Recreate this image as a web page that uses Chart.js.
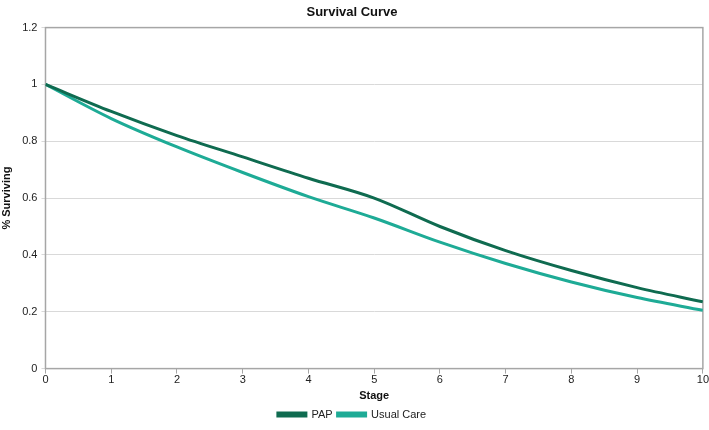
<!DOCTYPE html>
<html>
<head>
<meta charset="utf-8">
<script src="https://cdn.jsdelivr.net/npm/chart.js@4"></script>
<style>
  html, body { margin: 0; padding: 0; background: #fff; }
  #wrap { width: 709px; height: 430px; }
</style>
</head>
<body>
<div id="wrap"><canvas id="chart"></canvas></div>
<script>
// --- DATA ---
const stages = [0, 1, 2, 3, 4, 5, 6, 7, 8, 9, 10];
const papValues = [1, 0.905, 0.82, 0.745, 0.67, 0.60, 0.50, 0.415, 0.345, 0.285, 0.235];
const usualCareValues = [1, 0.88, 0.78, 0.69, 0.605, 0.53, 0.445, 0.37, 0.305, 0.25, 0.205];

const FONT = "'Liberation Sans Narrow', 'Liberation Sans', Arial, sans-serif";

// draw grey box round the plot area
const frame = {
    id: 'frame',
    beforeDatasetsDraw(chart) {
        const a = chart.chartArea;
        const ctx = chart.ctx;
        ctx.save();
        ctx.strokeStyle = '#a6a6a6';
        ctx.lineWidth = 1.5;
        ctx.strokeRect(a.left, a.top, a.right - a.left, a.bottom - a.top);
        ctx.restore();
    }
};

const toPoints = vals => vals.map((v, i) => ({ x: stages[i], y: v }));

new Chart(document.getElementById('chart').getContext('2d'), {
    type: 'line',
    data: {
        datasets: [{
            label: 'PAP',
            data: toPoints(papValues),
            borderColor: '#0f6b50',
            backgroundColor: '#0f6b50',
            borderWidth: 3,
            pointRadius: 0,
            cubicInterpolationMode: 'monotone'
        }, {
            label: 'Usual Care',
            data: toPoints(usualCareValues),
            borderColor: '#1eab96',
            backgroundColor: '#1eab96',
            borderWidth: 3,
            pointRadius: 0,
            cubicInterpolationMode: 'monotone'
        }]
    },
    options: {
        responsive: true,
        maintainAspectRatio: false,
        animation: false,
        layout: { padding: { left: 0, right: 5, top: 3, bottom: 0 } },
        plugins: {
            title: {
                display: true,
                text: 'Survival Curve',
                color: '#111',
                font: { family: FONT, size: 13, weight: 'bold' },
                padding: { top: 2, bottom: 7 }
            },
            legend: {
                position: 'bottom',
                labels: {
                    color: '#222',
                    font: { family: FONT, size: 11 },
                    boxWidth: 28,
                    boxHeight: 3,
                    padding: 5
                }
            },
            tooltip: { enabled: false }
        },
        scales: {
            x: {
                type: 'linear',
                min: 0,
                max: 10,
                ticks: { stepSize: 1, color: '#222', font: { family: FONT, size: 11 }, padding: 0 },
                grid: { drawOnChartArea: false, color: '#a6a6a6', tickLength: 5 },
                border: { color: '#a6a6a6' },
                title: {
                    display: true,
                    text: 'Stage',
                    color: '#111',
                    font: { family: FONT, size: 11, weight: 'bold' },
                    padding: { top: 3, bottom: 1 }
                }
            },
            y: {
                min: 0,
                max: 1.2,
                ticks: {
                    stepSize: 0.2,
                    color: '#222',
                    font: { family: FONT, size: 11 },
                    padding: 4,
                    callback: v => String(Math.round(v * 10) / 10)
                },
                grid: { color: '#d9d9d9', tickLength: 4 },
                border: { color: '#a6a6a6' },
                title: {
                    display: true,
                    text: '% Surviving',
                    color: '#111',
                    font: { family: FONT, size: 11, weight: 'bold' },
                    padding: { top: 0, bottom: 5 }
                }
            }
        }
    },
    plugins: [frame]
});
</script>
</body>
</html>
